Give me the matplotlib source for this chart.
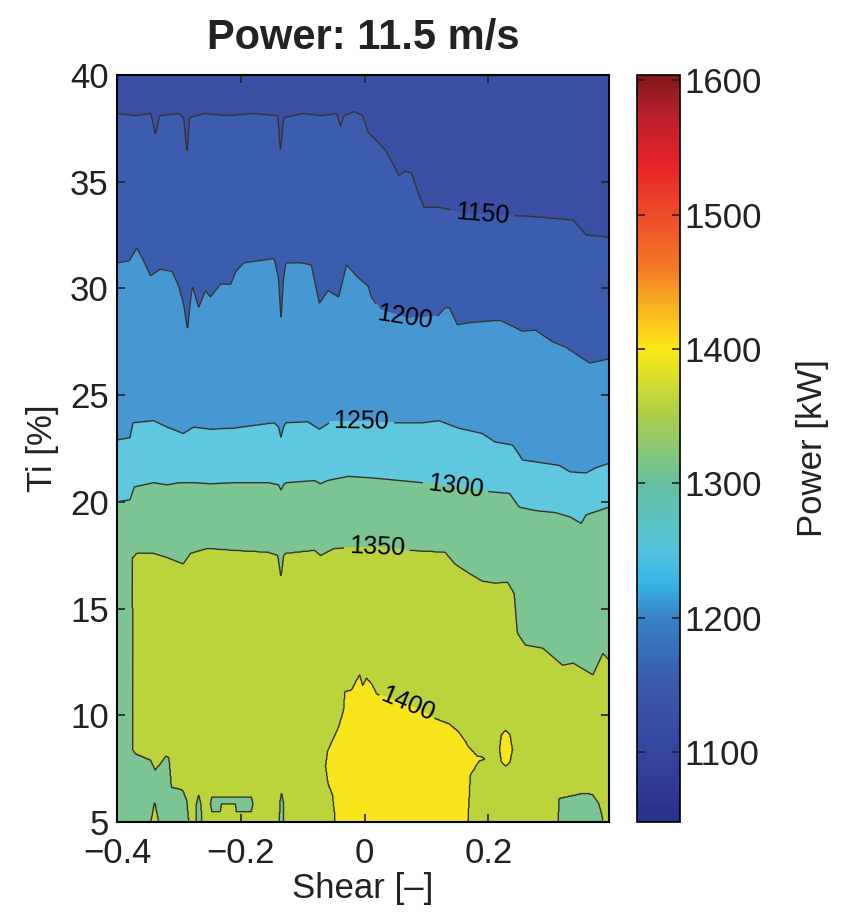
import numpy as np
import matplotlib
matplotlib.use('Agg')
import matplotlib.pyplot as plt
from matplotlib.colors import LinearSegmentedColormap, Normalize
import matplotlib.cm as cm

plt.rcParams['font.family'] = ['Liberation Sans', 'DejaVu Sans']

# ---------------- data ----------------
# contour levels drawn
line_levels = [1150, 1200, 1250, 1300, 1350, 1400]
fill_levels = [1000, 1150, 1200, 1250, 1300, 1350, 1400, 1600]
band_colors = ['#3a4ea3', '#3c5daf', '#4797d3', '#5fc7de', '#7cc491', '#bcd43c', '#f8e61a']

# boundary polylines (Shear, Ti) of each contour level
b1150_x = [-0.40, -0.37, -0.345, -0.338, -0.331, -0.30, -0.292, -0.287, -0.283, -0.26, -0.22, -0.18,
           -0.14, -0.136, -0.131, -0.10, -0.07, -0.045, -0.039, -0.033, -0.016, -0.003, 0.006, 0.02,
           0.033, 0.045, 0.055, 0.066, 0.076, 0.085, 0.096, 0.12, 0.137, 0.16, 0.22, 0.255, 0.30,
           0.337, 0.358, 0.395]
b1150_y = [38.2, 38.1, 38.2, 37.2, 38.1, 38.2, 38.0, 36.3, 38.0, 38.2, 38.1, 38.2,
           38.1, 36.4, 38.0, 38.2, 38.1, 38.2, 37.6, 38.1, 38.3, 38.1, 37.3, 36.9,
           36.5, 35.9, 35.3, 35.5, 35.4, 34.6, 33.8, 33.8, 33.7, 33.5, 33.4, 33.4, 33.3,
           33.2, 32.5, 32.4]

b1200_x = [-0.40, -0.38, -0.368, -0.357, -0.346, -0.33, -0.311, -0.30, -0.292, -0.286, -0.281, -0.278,
           -0.268, -0.257, -0.249, -0.233, -0.216, -0.208, -0.195, -0.172, -0.146, -0.139, -0.135,
           -0.131, -0.127, -0.102, -0.086, -0.073, -0.059, -0.042, -0.029, -0.01, 0.006, 0.011, 0.025,
           0.07, 0.118, 0.13, 0.137, 0.15, 0.17, 0.211, 0.22, 0.255, 0.276, 0.304, 0.325, 0.364, 0.395]
b1200_y = [31.2, 31.3, 31.9, 31.3, 30.6, 30.9, 30.8, 30.1, 29.2, 28.05, 29.5, 30.1,
           29.1, 29.9, 29.6, 30.2, 30.2, 30.8, 31.2, 31.3, 31.4, 30.5, 28.5,
           30.5, 31.2, 31.2, 31.1, 29.3, 29.9, 29.6, 31.1, 30.5, 30.1, 29.6, 29.0,
           28.6, 28.7, 29.1, 29.1, 28.3, 28.4, 28.5, 28.5, 28.0, 28.05, 27.5, 27.25, 26.5, 26.7]

b1250_x = [-0.40, -0.379, -0.374, -0.341, -0.319, -0.293, -0.276, -0.249, -0.211, -0.173, -0.146,
           -0.139, -0.135, -0.131, -0.127, -0.092, -0.073, -0.054, -0.005, 0.049, 0.093, 0.12, 0.152,
           0.19, 0.211, 0.239, 0.25, 0.255, 0.276, 0.315, 0.332, 0.358, 0.374, 0.395]
b1250_y = [22.9, 23.0, 23.7, 23.8, 23.5, 23.2, 23.5, 23.4, 23.45, 23.6, 23.7,
           23.5, 23.0, 23.5, 23.7, 23.75, 23.4, 23.75, 23.75, 23.7, 23.7, 23.8, 23.45,
           23.2, 22.8, 22.66, 22.2, 21.96, 21.87, 21.7, 21.4, 21.35, 21.6, 21.8]

b1300_x = [-0.40, -0.379, -0.372, -0.341, -0.319, -0.30, -0.276, -0.249, -0.211, -0.155, -0.139,
           -0.135, -0.131, -0.127, -0.081, -0.071, -0.06, -0.026, 0.022, 0.093, 0.147, 0.195, 0.234,
           0.25, 0.276, 0.309, 0.332, 0.35, 0.358, 0.395]
b1300_y = [20.0, 20.1, 20.7, 20.9, 20.8, 20.9, 20.9, 20.85, 20.9, 20.9, 20.8,
           20.55, 20.8, 20.9, 21.0, 20.85, 21.0, 21.2, 21.1, 20.9, 20.7, 20.5, 20.4,
           19.76, 19.6, 19.5, 19.3, 19.0, 19.4, 19.76]

b1350_x = [-0.40, -0.374, -0.368, -0.341, -0.319, -0.293, -0.281, -0.254, -0.211, -0.156, -0.14,
           -0.135, -0.131, -0.127, -0.081, -0.071, -0.049, 0.02, 0.065, 0.13, 0.146, 0.169, 0.19,
           0.211, 0.231, 0.242, 0.247, 0.26, 0.288, 0.32, 0.337, 0.369, 0.385, 0.395]
b1350_y = [17.4, 17.4, 17.6, 17.6, 17.4, 17.1, 17.6, 17.83, 17.74, 17.65, 17.5,
           16.5, 17.5, 17.6, 17.74, 17.5, 17.83, 17.9, 17.75, 17.65, 17.1, 16.66, 16.3,
           16.2, 16.25, 15.7, 13.85, 13.3, 13.15, 12.35, 12.45, 11.9, 12.9, 12.6]

# pockets below 1350 (green) inside the 1350-1400 band: upper / lower edges
g1_up_x = [-0.41, -0.3755, -0.3745, -0.37, -0.346, -0.338, -0.321, -0.316, -0.312, -0.294, -0.287, -0.284, -0.282]
g1_up_y = [19.0, 19.0, 8.4, 8.2, 7.9, 7.43, 8.1, 8.0, 6.64, 6.5, 6.0, 5.0, 3.0]
g1_lo_x = [-0.41, -0.3475, -0.3465, -0.339, -0.3315, -0.3305, -0.282]
g1_lo_y = [3.0, 3.0, 4.8, 5.95, 4.8, 3.0, 3.0]

g2_up_x = [-0.274, -0.272, -0.268, -0.264, -0.261]
g2_up_y = [3.0, 5.8, 6.3, 5.8, 3.0]
g2_lo_x = [-0.274, -0.261]
g2_lo_y = [3.0, 3.0]

g3_up_x = [-0.249, -0.247, -0.183, -0.180]
g3_up_y = [5.85, 6.17, 6.17, 5.85]
g3_lo_x = [-0.249, -0.247, -0.233, -0.231, -0.209, -0.207, -0.183, -0.180]
g3_lo_y = [5.85, 5.5, 5.5, 5.85, 5.85, 5.5, 5.5, 5.85]

g4_up_x = [-0.139, -0.137, -0.134, -0.131, -0.129]
g4_up_y = [3.0, 5.9, 6.4, 5.9, 3.0]
g4_lo_x = [-0.139, -0.129]
g4_lo_y = [3.0, 3.0]

g5_up_x = [0.311, 0.314, 0.33, 0.353, 0.368, 0.378, 0.384, 0.387]
g5_up_y = [3.0, 6.1, 6.2, 6.35, 6.3, 5.9, 5.3, 3.0]
g5_lo_x = [0.311, 0.387]
g5_lo_y = [3.0, 3.0]

# pockets above 1400 (yellow)
y1_up_x = [-0.063, -0.06, -0.054, -0.042, -0.034, -0.032, -0.021, -0.013, -0.008, -0.003, 0.003,
           0.011, 0.02, 0.03, 0.07, 0.11, 0.137, 0.153, 0.169, 0.182, 0.190, 0.195]
y1_up_y = [7.6, 8.3, 8.7, 9.45, 10.25, 11.1, 11.2, 11.65, 11.9, 11.4, 11.75,
           11.5, 11.0, 10.9, 10.5, 9.9, 9.6, 9.2, 8.5, 8.1, 8.05, 7.95]
y1_lo_x = [-0.063, -0.059, -0.052, -0.048, -0.046, 0.163, 0.167, 0.171, 0.185, 0.195]
y1_lo_y = [7.6, 6.8, 6.3, 5.3, 3.0, 3.0, 5.0, 7.2, 7.85, 7.95]

y2_up_x = [0.218, 0.221, 0.228, 0.235, 0.239]
y2_up_y = [8.4, 9.1, 9.3, 9.1, 8.4]
y2_lo_x = [0.218, 0.221, 0.228, 0.235, 0.239]
y2_lo_y = [8.4, 7.8, 7.62, 7.8, 8.4]

# contour label positions
label_pos = [(0.19, 33.4), (0.065, 28.65), (-0.005, 23.75), (0.147, 20.7), (0.02, 17.9), (0.07, 10.5)]

# colorbar colours (printed jet)
cb_vals = [1048, 1100, 1150, 1200, 1225, 1250, 1300, 1350, 1400, 1430, 1460, 1500, 1540, 1575, 1604]
cb_cols = ['#28318c', '#3545a0', '#3a58ae', '#3a82c8', '#36b4e6', '#52c3dc', '#66bfa0', '#a9ce4c',
           '#fce815', '#f9b520', '#f47c26', '#ee4b29', '#e7212b', '#b8202a', '#841818']
cb_ticks = [1100, 1200, 1300, 1400, 1500, 1600]

# ---------------- build the field ----------------
xg = np.linspace(-0.4, 0.395, 800)
yg = np.linspace(4.0, 40.5, 900)
c1150 = np.interp(xg, b1150_x, b1150_y)
c1200 = np.interp(xg, b1200_x, b1200_y)
c1250 = np.interp(xg, b1250_x, b1250_y)
c1300 = np.interp(xg, b1300_x, b1300_y)
c1350 = np.interp(xg, b1350_x, b1350_y)
Z = np.empty((len(yg), len(xg)))
for j in range(len(xg)):
    ys = [4.0, c1350[j], c1300[j], c1250[j], c1200[j], c1150[j], 40.5]
    zs = [1385, 1350, 1300, 1250, 1200, 1150, 1115]
    Z[:, j] = np.interp(yg, ys, zs)


def pocket(ux, uy, lx, ly):
    x0 = max(min(ux), min(lx))
    x1 = min(max(ux), max(lx))
    inx = (xg >= x0) & (xg <= x1)
    u = np.interp(xg, ux, uy)
    l = np.interp(xg, lx, ly)
    return inx[None, :] & (yg[:, None] > l[None, :]) & (yg[:, None] < u[None, :])


for ux, uy, lx, ly in [(g1_up_x, g1_up_y, g1_lo_x, g1_lo_y), (g2_up_x, g2_up_y, g2_lo_x, g2_lo_y),
                       (g3_up_x, g3_up_y, g3_lo_x, g3_lo_y), (g4_up_x, g4_up_y, g4_lo_x, g4_lo_y),
                       (g5_up_x, g5_up_y, g5_lo_x, g5_lo_y)]:
    m = pocket(ux, uy, lx, ly)
    Z[m] = np.minimum(Z[m], 1330)
for ux, uy, lx, ly in [(y1_up_x, y1_up_y, y1_lo_x, y1_lo_y), (y2_up_x, y2_up_y, y2_lo_x, y2_lo_y)]:
    m = pocket(ux, uy, lx, ly)
    Z[m] = np.maximum(Z[m], 1420)

# ---------------- draw ----------------
fig = plt.figure(figsize=(8.44, 9.15), dpi=100)
ax = fig.add_axes([0.1386, 0.1016, 0.5830, 0.8164])
ax.contourf(xg, yg, Z, levels=fill_levels, colors=band_colors)
cs = ax.contour(xg, yg, Z, levels=line_levels, colors='#333333', linewidths=1.0)
ax.clabel(cs, line_levels, inline=True, fontsize=18, fmt='%d', colors='k', manual=label_pos)

ax.set_xlim(-0.4, 0.395)
ax.set_ylim(5, 40)
ax.set_xticks([-0.4, -0.2, 0, 0.2])
ax.set_xticklabels(['\u22120.4', '\u22120.2', '0', '0.2'])
ax.set_yticks([5, 10, 15, 20, 25, 30, 35, 40])
ax.tick_params(direction='in', top=True, right=True, length=6, width=1.2, labelsize=25,
               colors='#222222')
ax.tick_params(axis='x', pad=11)
ax.tick_params(axis='y', pad=6)
for s in ax.spines.values():
    s.set_linewidth(1.5)
ax.set_xlabel('Shear [\u2013]', fontsize=25, labelpad=1, color='#222222')
ax.set_ylabel('Ti [%]', fontsize=25, labelpad=8, color='#222222')
ax.set_title('Power: 11.5 m/s', fontsize=30, fontweight='bold', pad=19, color='#222222')

cax = fig.add_axes([0.7547, 0.1016, 0.051, 0.8164])
cmap = LinearSegmentedColormap.from_list(
    'pjet', [((v - cb_vals[0]) / (cb_vals[-1] - cb_vals[0]), c) for v, c in zip(cb_vals, cb_cols)])
sm = cm.ScalarMappable(norm=Normalize(cb_vals[0], cb_vals[-1]), cmap=cmap)
cb = fig.colorbar(sm, cax=cax, ticks=cb_ticks)
cb.outline.set_linewidth(1.2)
cax.tick_params(direction='in', left=True, right=True, length=6, width=1.2, labelsize=25,
                colors='#222222')
cax.set_ylabel('Power [kW]', fontsize=25, labelpad=24, color='#222222')

fig.savefig('out.png', dpi=100)
